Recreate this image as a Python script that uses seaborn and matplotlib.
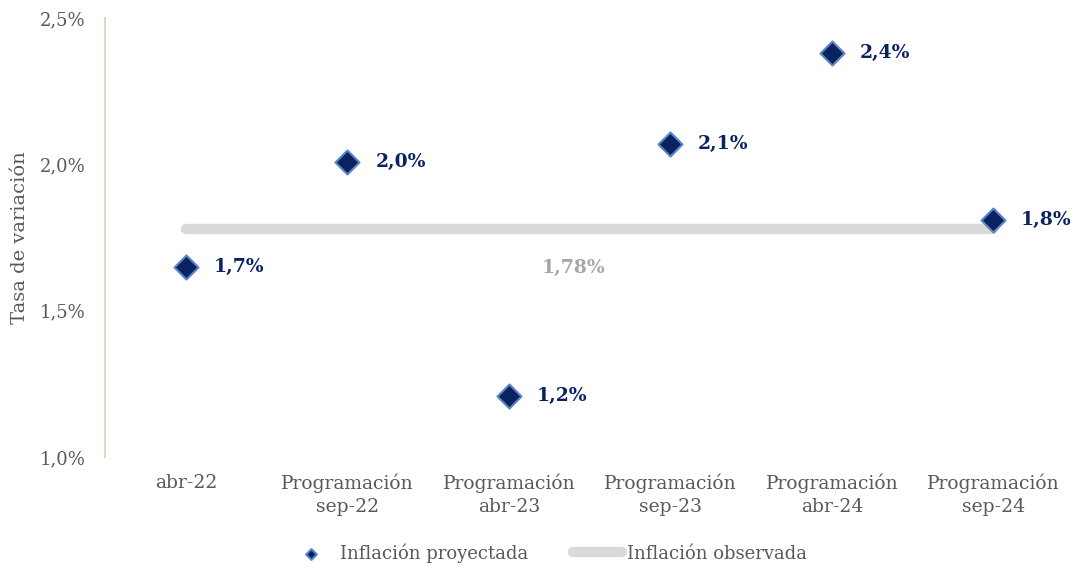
import numpy as np
import pandas as pd
import seaborn as sns
import matplotlib.pyplot as plt

categorias = ["abr-22", "Programación\nsep-22", "Programación\nabr-23",
              "Programación\nsep-23", "Programación\nabr-24", "Programación\nsep-24"]
proyectada = [1.65, 2.01, 1.21, 2.07, 2.38, 1.81]
etiquetas = ["1,7%", "2,0%", "1,2%", "2,1%", "2,4%", "1,8%"]
observada = [1.78] * len(categorias)
etiqueta_obs = "1,78%"

navy = "#0b2261"
edge = "#5b87c5"
gris_linea = "#d9d9d9"
gris_txt = "#595959"

sns.set_style("white")
plt.rcParams["font.family"] = ["DejaVu Serif"]

df = pd.DataFrame({"cat": categorias, "proy": proyectada, "obs": observada})

fig = plt.figure(figsize=(10.74, 5.7), dpi=100)
ax = fig.add_axes([0.098, 0.198, 0.902, 0.77])

sns.lineplot(data=df, x="cat", y="obs", ax=ax, color=gris_linea, linewidth=7.5,
             solid_capstyle="round", label="Inflación observada", zorder=1, sort=False)
sns.scatterplot(data=df, x="cat", y="proy", ax=ax, marker="D", s=150, color=navy,
                edgecolor=edge, linewidth=1.5, label="Inflación proyectada", zorder=3)

for i, (v, t) in enumerate(zip(proyectada, etiquetas)):
    ax.annotate(t, (i, v), xytext=(20, 0), textcoords="offset points",
                ha="left", va="center", fontsize=13.5, fontweight="bold", color=navy)
ax.annotate(etiqueta_obs, (2.4, observada[0]), xytext=(0, -28), textcoords="offset points",
            ha="center", va="center", fontsize=13.5, fontweight="bold", color="#a6a6a6")

ax.set_xlim(-0.5, 5.5)
ax.set_ylim(1.0, 2.5)
ax.set_yticks([1.0, 1.5, 2.0, 2.5])
ax.set_yticklabels([f"{v:.1f}%".replace(".", ",") for v in [1.0, 1.5, 2.0, 2.5]])
ax.tick_params(axis="y", length=0, labelsize=13, labelcolor=gris_txt, pad=14)
ax.tick_params(axis="x", length=0, labelsize=13.5, labelcolor=gris_txt, pad=12)
for lbl in ax.get_xticklabels():
    lbl.set_linespacing(1.35)
ax.set_xlabel("")
ax.set_ylabel("Tasa de variación", fontsize=14, color=gris_txt, labelpad=8)

for s in ["top", "right", "bottom"]:
    ax.spines[s].set_visible(False)
ax.spines["left"].set_color("#ddd9c3")
ax.spines["left"].set_linewidth(1.5)

h, l = ax.get_legend_handles_labels()
order = [l.index("Inflación proyectada"), l.index("Inflación observada")]
leg = ax.legend([h[i] for i in order], [l[i] for i in order], loc="center",
                bbox_to_anchor=(0.509, 0.03), bbox_transform=fig.transFigure, ncol=2,
                frameon=False, fontsize=13, labelcolor=gris_txt, markerscale=0.45,
                handlelength=2.7, handletextpad=0.25, columnspacing=2.5)

fig.savefig("out.png", dpi=100)
